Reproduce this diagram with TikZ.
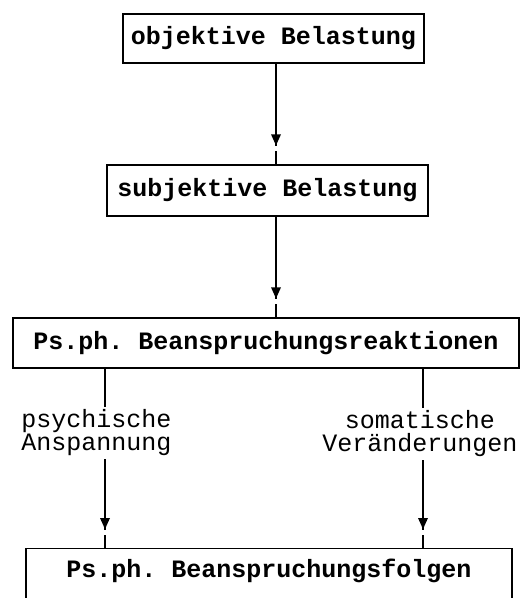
\documentclass[tikz,border=0pt]{standalone}
\usepackage{fontspec}
\setmonofont{Liberation Mono}
\usetikzlibrary{decorations.markings}
\begin{document}
\begin{tikzpicture}[x=1pt,y=-1pt,
  box/.style={draw, line width=1.3pt, inner sep=0pt,
    font=\ttfamily\bfseries\fontsize{25}{21}\selectfont},
  lbl/.style={align=center, inner xsep=0pt, inner ysep=3pt,
    font=\ttfamily\fontsize{25}{23}\selectfont},
  plain/.style={line width=1.2pt},
  flow/.style={line width=1.2pt, postaction=decorate,
    decoration={markings, mark=at position -19pt with {
      \fill[black] (0pt,0pt) -- (-11pt,5pt) -- (-11pt,-5pt) -- cycle;
      \fill[white] (1pt,-2pt) rectangle (6pt,2pt);}}}]
\clip (0,0) rectangle (528,598);
\fill[white] (0,0) rectangle (528,598);

% boxes
\node[box, minimum width=301pt, minimum height=49pt] (obj) at (273.5,38.5) {objektive Belastung};
\node[box, minimum width=321pt, minimum height=51pt] (subj) at (267.5,190.5) {subjektive Belastung};
\node[box, minimum width=506pt, minimum height=50pt] (reak) at (266,343) {Ps.ph. Beanspruchungsreaktionen};
\node[box, minimum width=486pt, text height=29pt, text depth=25pt, anchor=north] (folg) at (269,548) {Ps.ph. Beanspruchungsfolgen};

% branch labels
\node[lbl] (psy) at (96.5,433) {psychische\\Anspannung};
\node[lbl] (som) at (420,434) {somatische\\Veränderungen};

% vertical guides for the connectors
\coordinate (cA) at (276,0);
\coordinate (cL) at (105,0);
\coordinate (cR) at (423,0);

% connectors
\draw[flow] (obj.south -| cA) -- (subj.north -| cA);
\draw[flow] (subj.south -| cA) -- (reak.north -| cA);
\draw[plain] (reak.south -| cL) -- (psy.north -| cL);
\draw[flow] (psy.south -| cL) -- (folg.north -| cL);
\draw[plain] (reak.south -| cR) -- (som.north -| cR);
\draw[flow] (som.south -| cR) -- (folg.north -| cR);
\end{tikzpicture}
\end{document}
